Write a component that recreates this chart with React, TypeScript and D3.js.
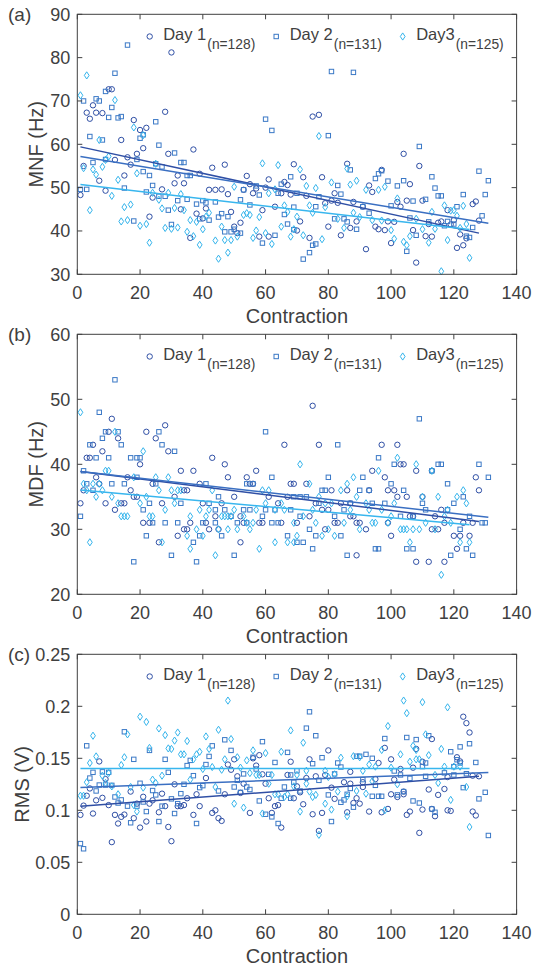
import React from "react";
import * as d3 from "d3";

// ---------- data (contraction index, value) ----------
const mnfDay1: [number, number][] = [[1,48.3],[2,55],[3,67.3],[4,65.9],[5,69],[6,67.3],[7,51.6],[8,67.2],[9,49.3],[10,72.7],[11,72.7],[12,56.4],[14,61],[15,52.8],[16,57],[17,55.3],[18,65.6],[19,57.8],[20,63.3],[21,59.1],[22,63.8],[23,43.3],[24,47.7],[27,49.6],[28,67.5],[29,57.8],[30,81.2],[31,51],[32,52.8],[33,45],[34,51],[36,38.4],[37,58.8],[38,44],[39,53.2],[40,42.9],[41,45.2],[42,49.5],[43,54.6],[44,49.5],[46,49.6],[47,55.3],[48,48.5],[49,44.4],[50,41],[51,39.5],[52,41.9],[53,49.5],[54,52.7],[55,50.8],[56,48.7],[57,49.8],[58,38.7],[59,44.8],[60,50],[61,51.9],[61,38.7],[63,45.6],[65,48.7],[66,51.3],[67,50.6],[68,48.4],[69,55.4],[70,40.1],[71,42.2],[72,52.4],[73,48.1],[74,38.4],[75,66.4],[77,66.8],[78,52.4],[79,46.4],[80,41],[81,47],[82,48.7],[83,46.5],[84,39],[86,55.5],[87,40.7],[88,46.7],[89,42.2],[91,45.6],[92,35.8],[93,50.5],[94,49],[95,41],[96,40.4],[97,54.1],[98,40.2],[99,42.2],[100,37.2],[101,42.1],[102,46.7],[103,45.6],[104,57.8],[105,47],[106,50.8],[107,40.2],[108,32.7],[109,55],[110,47],[111,38.8],[112,41.6],[113,38.7],[115,41.9],[116,42.2],[118,44.8],[119,41.5],[120,42.5],[121,36.1],[122,39.2],[123,36.7],[124,38.3],[126,46.2],[127,46.8],[128,42.4]];
const mnfDay2: [number, number][] = [[1,49.6],[2,70],[3,49.6],[4,61.8],[5,55.8],[6,70.5],[7,70],[8,61],[9,72.2],[9,56.5],[10,66.2],[11,68.5],[12,76.4],[13,66.1],[14,66.4],[15,49.9],[16,82.9],[18,42.3],[19,56.5],[20,61.4],[21,62.2],[21,53.7],[22,49],[23,52.8],[24,50.5],[25,65.2],[25,55.5],[26,59.8],[26,48],[27,54.8],[28,48],[29,44.8],[30,41.5],[31,58],[32,47],[33,55.8],[34,55.8],[35,52.8],[35,47.3],[36,52.8],[38,46.2],[39,42.8],[40,47],[41,46.5],[42,42.5],[44,46.7],[45,43.2],[46,44],[47,39.8],[48,43.3],[49,39.8],[50,40.4],[52,39.5],[52,47.2],[53,49.5],[55,46],[57,50.4],[58,48.3],[59,37.2],[60,65.8],[62,63.2],[63,39],[64,48.7],[65,50.8],[66,43.8],[67,41.6],[68,52.5],[69,45.5],[69,40.3],[70,48.7],[72,33.5],[74,35],[75,36.7],[76,37],[76,45.6],[77,47.9],[80,62],[81,76.8],[82,42.8],[83,50.5],[84,48.5],[85,42.8],[86,42.1],[87,54.1],[88,76.6],[89,40.4],[91,45.6],[93,44.1],[95,52.1],[96,53.2],[97,53.9],[99,51.5],[100,45.8],[102,50.4],[104,51.6],[105,35.3],[106,43],[107,46.9],[108,39],[109,59.5],[111,47.3],[112,42.1],[113,52.5],[114,49.9],[115,48.1],[116,48.1],[117,41.2],[118,42.2],[120,41.6],[121,45.6],[123,48.4],[124,38.8],[125,38.5],[126,40.8],[128,53.8],[129,43.5],[130,48.4],[131,51.6]];
const mnfDay3: [number, number][] = [[1,71.3],[2,54.5],[3,75.9],[4,44.8],[5,54.2],[6,53],[7,61],[8,54.8],[9,56.4],[10,57.2],[11,48.1],[12,70.2],[13,51.8],[14,42.2],[15,45.5],[16,42.5],[17,46.1],[18,63.9],[19,53.3],[20,41.2],[21,62.1],[22,41.6],[23,37.3],[24,48.8],[25,55.5],[26,47.2],[27,45.2],[28,40.7],[29,48.8],[30,40.5],[31,45.3],[32,40.8],[33,48.5],[34,44.8],[35,39.8],[36,42.5],[37,38.8],[38,42.1],[39,36.8],[40,40.4],[41,43.3],[42,44.2],[44,37.8],[45,33.6],[46,41],[47,37.9],[48,35],[49,37.9],[50,50.2],[51,38.7],[53,43.7],[54,44.1],[55,43.7],[56,38.4],[57,40.1],[58,43.2],[59,55.6],[60,39.5],[61,48.7],[62,37],[63,49.6],[64,55.2],[65,41],[66,45.9],[67,44.4],[68,38.7],[69,40.4],[70,43.3],[71,54.2],[72,39],[73,50.4],[74,45.9],[75,44.2],[76,49.9],[77,61.9],[78,38.1],[79,45.5],[81,51.2],[83,42.8],[85,40.7],[86,54.4],[87,50.7],[88,44.2],[89,51.6],[90,43.2],[92,49.5],[94,42.5],[96,49.5],[97,42.4],[98,50.2],[100,40.2],[101,38.2],[102,47.5],[104,37.5],[105,36.7],[106,38.8],[108,42.8],[110,40.4],[112,37.3],[113,44.4],[114,40.5],[116,30.7],[117,45.9],[118,37.9],[119,44.7],[120,44.8],[121,43.5],[122,40.7],[123,45.8],[124,41.6],[125,33.8]];

const mdfDay1: [number, number][] = [[1,34],[2,36],[3,41],[4,41],[5,43],[6,38],[7,37],[8,42],[9,34],[10,45],[11,47],[12,33],[13,44],[14,34],[15,34],[16,38],[17,36],[18,35],[19,35],[20,40],[21,31],[22,45],[23,31],[24,37],[25,44],[26,28],[27,34],[28,46],[29,42],[31,35],[32,29],[33,39],[34,36],[34,30],[35,36],[35,30],[36,31],[37,39],[39,37],[40,34],[41,31],[42,30],[43,41],[44,32],[45,30],[46,34],[47,40],[48,38],[50,35],[52,32],[52,28],[53,31],[54,38],[55,37],[56,37],[57,39],[58,31],[59,31],[61,35],[64,34],[65,31],[66,43],[67,35],[68,37],[69,37],[70,31],[73,37],[74,32],[75,49],[76,34],[77,43],[78,33],[79,30],[80,33],[81,36],[82,31],[83,31],[84,34],[86,36],[87,34],[87,32],[88,32],[89,31],[89,26],[90,31],[92,30],[93,36],[94,39],[97,43],[98,38],[99,36],[99,31],[100,29],[101,36],[102,43],[102,35],[103,40],[104,40],[105,35],[106,32],[107,32],[108,39],[108,25],[110,35],[112,25],[113,39],[113,30],[114,32],[115,30],[116,33],[117,31],[117,25],[120,29],[121,27],[122,29],[123,31],[125,29],[126,31],[127,38],[128,36]];
const mdfDay2: [number, number][] = [[1,32],[2,39],[3,37],[4,43],[5,36],[6,41],[7,48],[8,44],[9,45],[10,41],[11,37],[12,53],[13,45],[14,43],[15,37],[17,41],[18,25],[19,41],[19,38],[20,41],[21,33],[22,29],[23,34],[24,31],[25,37],[26,45],[27,43],[28,31],[30,26],[31,42],[32,31],[33,34],[37,28],[38,25],[39,29],[40,31],[41,37],[42,34],[44,33],[44,31],[45,35],[46,29],[47,33],[49,32],[50,26],[51,31],[53,33],[54,37],[54,31],[55,33],[56,37],[59,32],[60,45],[60,33],[62,38],[62,31],[63,33],[64,31],[67,29],[68,33],[69,35],[70,28],[71,35],[71,32],[72,28],[73,35],[74,30],[75,27],[76,29],[77,34],[78,36],[79,36],[80,38],[82,32],[83,43],[84,29],[85,33],[86,26],[87,34],[90,36],[91,38],[93,36],[94,34],[95,27],[96,41],[96,27],[98,34],[100,37],[101,40],[103,32],[104,36],[105,27],[107,32],[107,27],[109,47],[110,34],[111,33],[113,39],[115,40],[116,40],[118,37],[118,33],[119,26],[120,34],[122,30],[123,35],[124,27],[125,32],[126,26],[128,40],[129,31],[130,31],[131,38]];
const mdfDay3: [number, number][] = [[1,48],[2,37],[3,36],[4,28],[5,37],[6,35],[7,37],[8,36],[9,39],[10,39],[11,35],[12,45],[13,34],[14,32],[15,32],[16,32],[18,38],[20,34],[21,42],[22,35],[23,32],[24,32],[25,38],[26,36],[27,28],[28,33],[29,38],[30,36],[31,34],[32,36],[33,36],[35,29],[36,32],[36,27],[38,30],[39,33],[40,29],[41,32],[42,33],[43,36],[44,26],[45,30],[46,32],[47,32],[48,32],[48,30],[49,32],[50,33],[51,30],[53,32],[54,31],[55,30],[56,31],[57,33],[58,27],[59,36],[60,34],[61,36],[63,33],[63,28],[65,34],[66,33],[67,28],[69,31],[69,28],[70,29],[71,40],[72,32],[74,37],[75,33],[76,31],[77,35],[78,29],[79,34],[80,30],[81,34],[82,29],[84,36],[85,31],[86,37],[87,33],[88,38],[89,35],[90,30],[92,34],[93,33],[94,31],[95,31],[96,39],[97,33],[99,31],[100,32],[101,34],[102,41],[103,30],[104,30],[105,30],[106,28],[107,30],[108,40],[109,30],[110,35],[111,31],[113,39],[114,30],[115,35],[116,23],[117,32],[118,33],[119,31],[121,35],[122,28],[123,36],[124,34],[125,28]];

const rmsDay1: [number, number][] = [[1,.0956],[2,.1045],[3,.114],[4,.121],[5,.0969],[6,.1096],[7,.147],[8,.112],[9,.130],[10,.105],[11,.0694],[12,.0956],[13,.0873],[14,.0937],[15,.0959],[17,.118],[18,.0924],[19,.1064],[20,.0834],[21,.113],[22,.0892],[23,.1064],[24,.1096],[26,.0981],[27,.116],[28,.104],[29,.084],[30,.0703],[31,.125],[32,.104],[33,.104],[34,.105],[35,.1116],[37,.0956],[38,.1154],[39,.104],[41,.131],[43,.0975],[44,.1],[45,.0924],[46,.0898],[47,.1154],[48,.144],[49,.139],[50,.149],[51,.1327],[52,.1167],[53,.1256],[55,.0975],[56,.15],[57,.143],[58,.153],[59,.1346],[60,.1256],[61,.1116],[62,.0975],[63,.104],[64,.105],[65,.0834],[67,.134],[68,.1467],[69,.1116],[70,.123],[71,.1173],[72,.1058],[73,.131],[74,.149],[75,.0962],[76,.1327],[77,.0802],[78,.0975],[79,.134],[80,.1576],[81,.1218],[82,.111],[85,.127],[86,.0981],[87,.137],[87,.1256],[88,.107],[89,.1116],[90,.1064],[91,.127],[91,.1224],[93,.0988],[95,.130],[96,.1455],[97,.0981],[98,.160],[99,.1013],[100,.149],[100,.1154],[101,.1295],[102,.1128],[103,.1397],[104,.1154],[104,.118],[105,.0956],[106,.0988],[107,.141],[108,.159],[109,.0783],[110,.1467],[110,.1007],[112,.12],[113,.1685],[113,.1013],[114,.0943],[115,.1148],[117,.1205],[118,.132],[118,.1],[119,.0994],[121,.151],[122,.147],[123,.190],[124,.1838],[125,.1748],[126,.1333],[126,.0988],[127,.095],[128,.1327]];
const rmsDay2: [number, number][] = [[1,.068],[2,.063],[3,.162],[4,.131],[5,.1365],[6,.1186],[7,.1243],[8,.137],[9,.1243],[10,.1365],[11,.124],[12,.1128],[13,.107],[14,.110],[15,.1755],[16,.104],[17,.088],[18,.149],[19,.104],[20,.126],[21,.108],[22,.0988],[23,.1576],[24,.119],[25,.1148],[26,.0892],[27,.104],[28,.149],[29,.1365],[30,.111],[31,.0969],[32,.1064],[33,.116],[34,.125],[35,.143],[36,.148],[37,.1333],[38,.0873],[39,.1218],[40,.1237],[41,.144],[42,.1518],[43,.162],[45,.1186],[47,.1678],[49,.1576],[50,.1224],[51,.1288],[52,.1173],[53,.135],[54,.1224],[55,.12],[56,.151],[57,.1397],[58,.109],[59,.166],[60,.0962],[61,.1346],[62,.0937],[63,.146],[64,.0873],[65,.1116],[66,.1224],[67,.1557],[68,.1116],[68,.134],[69,.127],[70,.138],[71,.1186],[73,.179],[74,.1947],[75,.1448],[76,.1717],[77,.1288],[78,.1506],[80,.1148],[81,.0892],[82,.135],[83,.1455],[84,.1416],[84,.1077],[85,.110],[86,.1154],[87,.121],[88,.103],[89,.152],[90,.152],[91,.1295],[92,.1538],[94,.15],[94,.1135],[95,.124],[96,.1135],[97,.1135],[98,.169],[101,.1378],[102,.1148],[103,.134],[104,.118],[105,.170],[106,.1307],[107,.109],[108,.168],[109,.107],[110,.142],[111,.1455],[111,.1327],[112,.1717],[113,.1013],[114,.0981],[117,.136],[119,.1563],[120,.142],[120,.134],[121,.1486],[122,.161],[122,.1455],[123,.1218],[124,.1352],[125,.164],[127,.146],[128,.111],[130,.1173],[131,.0758]];
const rmsDay3: [number, number][] = [[1,.114],[2,.114],[3,.127],[4,.1455],[5,.1717],[6,.1518],[8,.1333],[9,.1263],[10,.1358],[11,.123],[13,.1154],[14,.1435],[15,.151],[16,.173],[17,.1224],[18,.105],[19,.0988],[20,.19],[21,.1218],[22,.185],[23,.16],[24,.1295],[25,.1263],[26,.1787],[27,.1333],[28,.1723],[29,.1595],[30,.159],[31,.167],[32,.1748],[33,.1538],[34,.1538],[35,.1666],[36,.1295],[37,.149],[38,.1538],[39,.1563],[40,.1397],[41,.171],[42,.159],[43,.1416],[44,.1224],[45,.1774],[46,.139],[47,.149],[48,.2055],[49,.1685],[50,.1064],[51,.151],[52,.141],[53,.1026],[54,.148],[55,.1358],[56,.1576],[57,.134],[58,.134],[59,.0969],[60,.155],[61,.1256],[62,.134],[63,.1154],[64,.1154],[65,.1563],[66,.1128],[67,.1154],[68,.1768],[69,.123],[70,.134],[71,.0988],[72,.165],[73,.138],[73,.1256],[74,.118],[75,.1128],[76,.1148],[77,.0764],[79,.138],[79,.1064],[80,.132],[81,.1007],[82,.1346],[83,.118],[84,.1506],[86,.1135],[86,.0943],[88,.152],[89,.1186],[90,.151],[91,.138],[92,.116],[93,.144],[94,.128],[95,.142],[97,.158],[98,.1],[99,.181],[100,.141],[102,.125],[103,.1538],[104,.2055],[105,.1934],[106,.1467],[107,.162],[108,.158],[108,.149],[109,.149],[110,.204],[111,.173],[112,.153],[114,.134],[115,.1263],[116,.159],[117,.142],[118,.199],[119,.110],[120,.142],[122,.142],[124,.1224],[125,.084]];

// linear fits: [intercept, slope] per day
const mnfFits: [number, number][] = [[59.56, -0.1567], [57.32, -0.1185], [50.78, -0.0837]];
const mdfFits: [number, number][] = [[38.96, -0.0606], [38.95, -0.0542], [36.09, -0.0430]];
const rmsFits: [number, number][] = [[0.1037, 0.000226], [0.1219, 0.000110], [0.1403, 0.0]];

const seriesNames = ["Day 1", "Day 2", "Day3"];
const seriesN = [128, 131, 125];
const xTicks = [0, 20, 40, 60, 80, 100, 120, 140];
const mnfTicks = [30, 40, 50, 60, 70, 80, 90];
const mdfTicks = [20, 30, 40, 50, 60];
const rmsTicks = [0, 0.05, 0.1, 0.15, 0.2, 0.25];
const rmsTickLabels = ["0", "0.05", "0.1", "0.15", "0.2", "0.25"];

const COLORS = ["#2f4fa5", "#3a78c6", "#34b4ec"];
const LINE_COLORS = ["#2f4fa5", "#3a6fc2", "#38b6ee"];
const TEXT = "#404040";
const FONT = "'Liberation Sans', Arial, sans-serif";

const W = 534, H = 967;
const LEFT = 77.3, RIGHT = 516.6, PH = 260;
const TOPS = [14.3, 334.3, 654.3];

function Marker({ kind, x, y, color }: { kind: number; x: number; y: number; color: string }) {
  if (kind === 0) return <circle cx={x} cy={y} r={2.7} fill="none" stroke={color} strokeWidth={1} />;
  if (kind === 1) return <rect x={x - 2.2} y={y - 2.2} width={4.4} height={4.4} fill="none" stroke={color} strokeWidth={1} />;
  return <path d={`M${x},${y - 3.6}L${x + 2.4},${y}L${x},${y + 3.6}L${x - 2.4},${y}Z`} fill="none" stroke={color} strokeWidth={1} />;
}

type PanelProps = {
  top: number; label: string; yLabel: string; yLabelX: number; domain: [number, number];
  ticks: number[]; tickLabels: string[]; series: [number, number][][]; fits: [number, number][];
};

function Panel({ top, label, yLabel, yLabelX, domain, ticks, tickLabels, series, fits }: PanelProps) {
  const x = d3.scaleLinear().domain([0, 140]).range([LEFT, RIGHT]);
  const y = d3.scaleLinear().domain(domain).range([top + PH, top]);
  const bottom = top + PH;
  const tl = 5;
  return (
    <g>
      {series.map((s, k) => (
        <g key={k}>
          {s.map((p, i) => (
            <Marker key={i} kind={k} x={x(p[0])} y={y(p[1])} color={COLORS[k]} />
          ))}
        </g>
      ))}
      {fits.map((f, k) => {
        const n = seriesN[k];
        const pts: [number, number][] = [[1, f[0] + f[1] * 1], [n, f[0] + f[1] * n]];
        const d = d3.line<[number, number]>().x((p) => x(p[0])).y((p) => y(p[1]))(pts) || "";
        return <path key={k} d={d} fill="none" stroke={LINE_COLORS[k]} strokeWidth={1.5} />;
      })}
      <rect x={LEFT} y={top} width={RIGHT - LEFT} height={PH} fill="none" stroke={TEXT} strokeWidth={1} />
      {xTicks.map((t) => (
        <g key={t}>
          <line x1={x(t)} x2={x(t)} y1={bottom} y2={bottom - tl} stroke={TEXT} />
          <line x1={x(t)} x2={x(t)} y1={top} y2={top + tl} stroke={TEXT} />
          <text x={x(t)} y={bottom + 25} textAnchor="middle" fontSize={18} fill={TEXT} fontFamily={FONT}>{t}</text>
        </g>
      ))}
      {ticks.map((t, i) => (
        <g key={t}>
          <line x1={LEFT} x2={LEFT + tl} y1={y(t)} y2={y(t)} stroke={TEXT} />
          <line x1={RIGHT} x2={RIGHT - tl} y1={y(t)} y2={y(t)} stroke={TEXT} />
          <text x={LEFT - 7} y={y(t) + 6.5} textAnchor="end" fontSize={18} fill={TEXT} fontFamily={FONT}>{tickLabels[i]}</text>
        </g>
      ))}
      <text x={(LEFT + RIGHT) / 2} y={bottom + 49} textAnchor="middle" fontSize={20} fill={TEXT} fontFamily={FONT}>Contraction</text>
      <text transform={`translate(${yLabelX},${top + PH / 2}) rotate(-90)`} textAnchor="middle" fontSize={20} fill={TEXT} fontFamily={FONT}>{yLabel}</text>
      <text x={8} y={top + 7} fontSize={19} fill={TEXT} fontFamily={FONT}>{label}</text>
      {seriesNames.map((nm, k) => {
        const mx = [149.7, 276.2, 402.7][k];
        return (
          <g key={nm}>
            <Marker kind={k} x={mx} y={top + 22.2} color={COLORS[k]} />
            <text x={mx + 13.5} y={top + 26} fontSize={16.5} fill={TEXT} fontFamily={FONT}>
              {nm}
              <tspan fontSize={13.8} dy={8.5} dx={1}>{`(n=${seriesN[k]})`}</tspan>
            </text>
          </g>
        );
      })}
    </g>
  );
}

export default function App() {
  return (
    <svg width={W} height={H} style={{ position: "absolute", left: 0, top: 0, background: "#fff" }} xmlns="http://www.w3.org/2000/svg">
      <rect width={W} height={H} fill="#fff" />
      <Panel top={TOPS[0]} label="(a)" yLabel="MNF (Hz)" yLabelX={43} domain={[30, 90]} ticks={mnfTicks} tickLabels={mnfTicks.map(String)} series={[mnfDay1, mnfDay2, mnfDay3]} fits={mnfFits} />
      <Panel top={TOPS[1]} label="(b)" yLabel="MDF (Hz)" yLabelX={43} domain={[20, 60]} ticks={mdfTicks} tickLabels={mdfTicks.map(String)} series={[mdfDay1, mdfDay2, mdfDay3]} fits={mdfFits} />
      <Panel top={TOPS[2]} label="(c)" yLabel="RMS (V)" yLabelX={29} domain={[0, 0.25]} ticks={rmsTicks} tickLabels={rmsTickLabels} series={[rmsDay1, rmsDay2, rmsDay3]} fits={rmsFits} />
    </svg>
  );
}
